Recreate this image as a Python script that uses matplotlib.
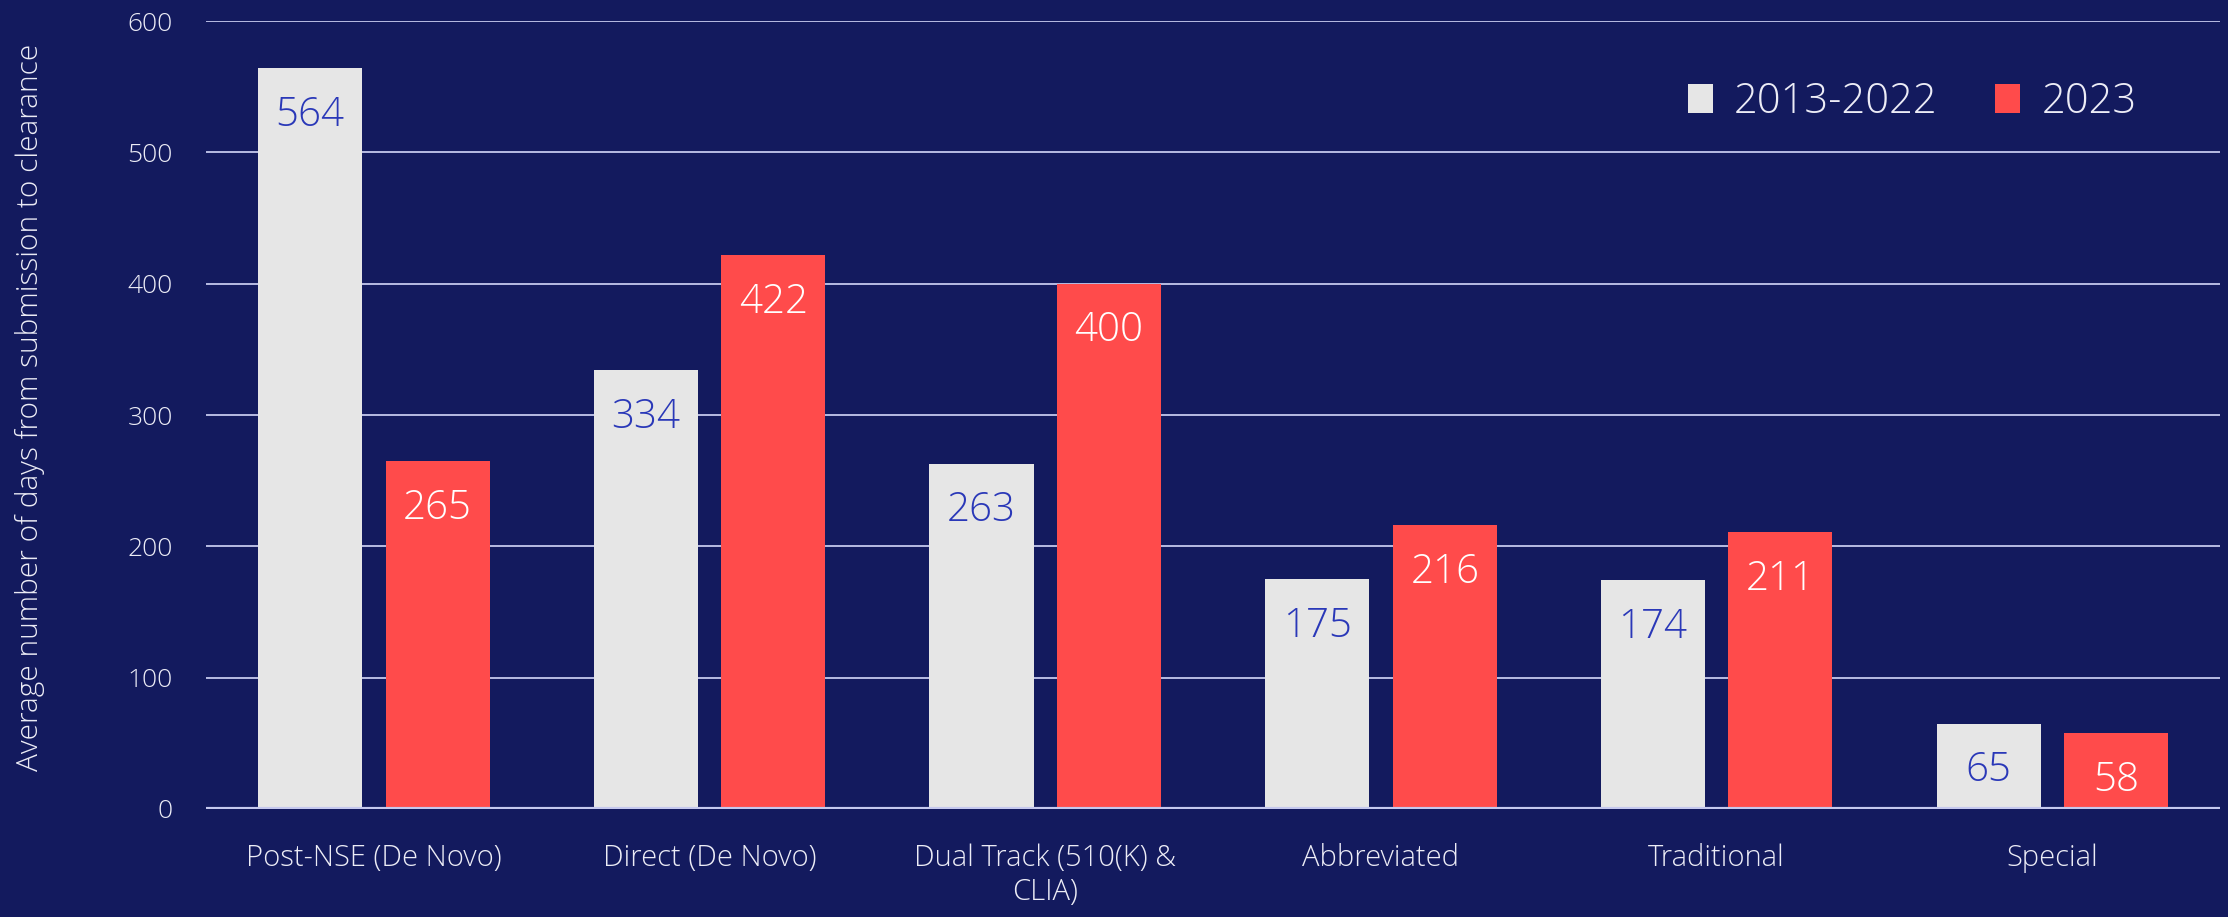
import numpy as np
import matplotlib.pyplot as plt

# data
categories = ["Post-NSE (De Novo)", "Direct (De Novo)", "Dual Track (510(K) &\nCLIA)",
              "Abbreviated", "Traditional", "Special"]
days_2013_2022 = [564, 334, 263, 175, 174, 65]
days_2023 = [265, 422, 400, 216, 211, 58]
series_names = ["2013-2022", "2023"]

bg = "#131A5E"
grey = "#E6E6E6"
red = "#FF4B4B"
grid_col = "#C5C8EE"
txt = "#ECECF6"

plt.rcParams['font.family'] = ['Open Sans', 'DejaVu Sans']

fig = plt.figure(figsize=(22.28, 9.17), dpi=100, facecolor=bg)
ax = fig.add_axes([0.0925, 0.1178, 0.904, 0.8592])
ax.set_facecolor(bg)

x = np.arange(len(categories))
w = 0.31
off = 0.19
b1 = ax.bar(x - off, days_2013_2022, w, color=grey, label=series_names[0], zorder=3)
b2 = ax.bar(x + off, days_2023, w, color=red, label=series_names[1], zorder=3)

for bars, col in ((b1, "#2A38B8"), (b2, "white")):
    for r in bars:
        h = r.get_height()
        ax.annotate(str(int(h)), (r.get_x() + r.get_width() / 2, h),
                    xytext=(0, -34), textcoords="offset points",
                    ha="center", va="center", fontsize=29, color=col,
                    fontweight="light", zorder=4)

ax.set_xlim(-0.5, len(categories) - 0.5)
ax.set_ylim(0, 600)
ax.set_yticks(np.arange(0, 601, 100))
ax.yaxis.grid(True, color=grid_col, linewidth=1.3, zorder=0)
ax.axhline(0, color=grid_col, linewidth=3, zorder=5)
for s in ax.spines.values():
    s.set_visible(False)

ax.set_xticks(x)
ax.set_xticklabels(categories, fontsize=21, color=txt, fontweight="light",
                   linespacing=1.2)
ax.tick_params(axis="x", length=0, pad=25)
ax.tick_params(axis="y", length=0, pad=24, labelsize=19, labelcolor=txt)
for t in ax.get_yticklabels():
    t.set_fontweight("light")

ax.set_ylabel("Average number of days from submission to clearance",
              fontsize=21.5, color=txt, fontweight="light")
ax.yaxis.set_label_coords(-0.08, 0.51)

leg = ax.legend(loc="upper right", ncol=2, frameon=False, fontsize=30,
                handlelength=0.6, handleheight=0.7, handletextpad=0.5,
                columnspacing=1.4, bbox_to_anchor=(0.977, 0.972))
for t in leg.get_texts():
    t.set_color(txt)
    t.set_fontweight("light")

fig.savefig("out.png", dpi=100, facecolor=bg)
